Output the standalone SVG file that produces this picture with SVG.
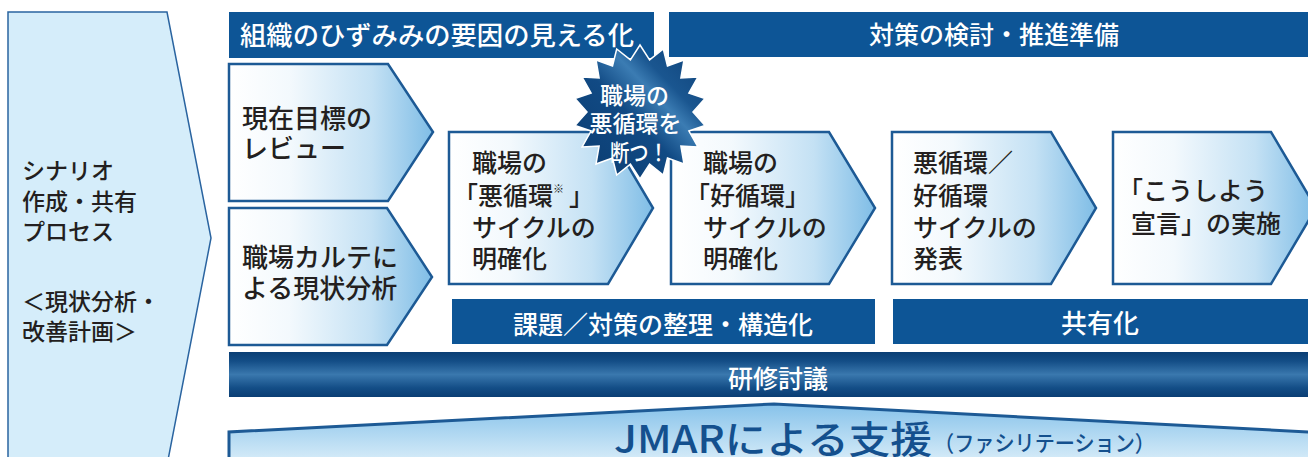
<svg xmlns="http://www.w3.org/2000/svg" width="1308" height="457" viewBox="0 0 1308 457">
<defs>
<linearGradient id="boxGrad" x1="0" y1="0" x2="1" y2="0">
<stop offset="0" stop-color="#ffffff"/>
<stop offset="0.3" stop-color="#f3f9fd"/>
<stop offset="0.7" stop-color="#c4e1f4"/>
<stop offset="1" stop-color="#7fbde6"/>
</linearGradient>
<linearGradient id="barGrad" x1="0" y1="0" x2="0" y2="1">
<stop offset="0" stop-color="#0a3e74"/>
<stop offset="0.2" stop-color="#134d86"/>
<stop offset="0.5" stop-color="#3a78ae"/>
<stop offset="0.8" stop-color="#134d86"/>
<stop offset="1" stop-color="#0a3e74"/>
</linearGradient>
<linearGradient id="jmarGrad" x1="0" y1="0" x2="0" y2="1">
<stop offset="0" stop-color="#86c2ea"/>
<stop offset="1" stop-color="#d5ebf8"/>
</linearGradient>
<linearGradient id="starGrad" x1="0" y1="1" x2="1" y2="0">
<stop offset="0" stop-color="#0b3b6f"/>
<stop offset="0.45" stop-color="#114a84"/>
<stop offset="0.62" stop-color="#3b7cb3"/>
<stop offset="0.72" stop-color="#1a5690"/>
<stop offset="1" stop-color="#0c3f76"/>
</linearGradient>
<style>
.t{font-family:"Noto Sans CJK JP","Noto Sans CJK SC",sans-serif;font-weight:500;}
.dark{fill:#231f20;font-size:25px;}
.big{font-size:26px;}
.w{fill:#ffffff;}
.hdr{fill:#0d5596;}
.box{fill:url(#boxGrad);stroke:#1d5a95;stroke-width:2.5;stroke-linejoin:miter;}
</style>
</defs>

<g id="scenario">
<polygon points="8,12 167,12 211,238 168,460 8,460" fill="#d5edfa" stroke="#2a64a0" stroke-width="1.5"/>
<text class="t" style="fill:#231f20;font-size:23px">
<tspan x="22" y="179">シナリオ</tspan>
<tspan x="22" y="210">作成・共有</tspan>
<tspan x="22" y="240">プロセス</tspan>
<tspan x="22" y="310">＜現状分析・</tspan>
<tspan x="22" y="340">改善計画＞</tspan>
</text>
</g>

<g id="header-visualize">
<rect class="hdr" x="229" y="12" width="425" height="46"/>
<text class="t w" x="240" y="45" font-size="26" textLength="394" lengthAdjust="spacingAndGlyphs">組織のひずみみの要因の見える化</text>
</g>

<g id="header-measures">
<rect class="hdr" x="669" y="12" width="639" height="45"/>
<text class="t w" x="994" y="44" font-size="25" text-anchor="middle">対策の検討・推進準備</text>
</g>

<g id="box-review">
<polygon class="box" points="229,64 388,64 433,132 388,201 229,201"/>
<text class="t dark big"><tspan x="242" y="128">現在目標の</tspan><tspan x="242" y="158">レビュー</tspan></text>
</g>

<g id="box-karte">
<polygon class="box" points="229,208 387,208 432,277 387,345 229,345"/>
<text class="t dark big"><tspan x="242" y="267">職場カルテに</tspan><tspan x="242" y="298">よる現状分析</tspan></text>
</g>

<g id="box-vicious">
<polygon class="box" points="449,132 608,132 653,208 608,284 449,284"/>
<text class="t dark">
<tspan x="472" y="172">職場の</tspan>
<tspan x="453" y="205">「悪循環</tspan><tspan font-size="11" dy="-12">※</tspan><tspan x="569" dy="12">」</tspan>
<tspan x="472" y="237">サイクルの</tspan>
<tspan x="472" y="268">明確化</tspan>
</text>
</g>

<g id="box-virtuous">
<polygon class="box" points="671,132 829,132 875,208 829,284 671,284"/>
<text class="t dark">
<tspan x="703" y="172">職場の</tspan>
<tspan x="685" y="205">「好循環」</tspan>
<tspan x="703" y="237">サイクルの</tspan>
<tspan x="703" y="268">明確化</tspan>
</text>
</g>

<g id="box-present">
<polygon class="box" points="892,132 1051,132 1096,208 1051,284 892,284"/>
<text class="t dark">
<tspan x="913" y="172">悪循環／</tspan>
<tspan x="913" y="205">好循環</tspan>
<tspan x="913" y="237">サイクルの</tspan>
<tspan x="913" y="268">発表</tspan>
</text>
</g>

<g id="box-declare">
<polygon class="box" points="1113,132 1271,132 1316,208 1271,284 1113,284"/>
<text class="t dark">
<tspan x="1118" y="200">「こうしよう</tspan>
<tspan x="1131" y="233">宣言」の実施</tspan>
</text>
</g>

<g id="bar-organize">
<rect class="hdr" x="452" y="299" width="423" height="45"/>
<text class="t w" x="663" y="334" font-size="25" text-anchor="middle">課題／対策の整理・構造化</text>
</g>

<g id="bar-share">
<rect class="hdr" x="893" y="299" width="415" height="45"/>
<text class="t w" x="1100" y="333" font-size="26" text-anchor="middle">共有化</text>
</g>

<g id="bar-training">
<rect x="229" y="352" width="1079" height="45" fill="url(#barGrad)"/>
<text class="t w" x="778" y="388" font-size="25" text-anchor="middle">研修討議</text>
</g>

<g id="jmar-support">
<polygon points="229,460 229,432 774,404 1310,432 1310,460" fill="url(#jmarGrad)" stroke="#1d5a95" stroke-width="3"/>
<text class="t" x="614" y="453" font-size="38" fill="#14508e" textLength="318" lengthAdjust="spacingAndGlyphs">JMARによる支援</text>
<text class="t" x="934" y="451" font-size="22" fill="#14508e" textLength="221" lengthAdjust="spacingAndGlyphs">（ファシリテーション）</text>
</g>

<g id="starburst">
<polygon points="640,45 649.6,59.8 663.3,49 667.5,65.9 684,60 680.9,77.9 697.9,77 688.9,93 705,98.5 693,112 705,125.5 688.9,131 697.9,147 680.9,146.1 684,164 667.5,158.1 663.3,175 649.6,164.2 640,179 630.4,164.2 616.7,175 612.5,158.1 596,164 599.1,146.1 582.1,147 591.1,131 575,125.5 587,112 575,98.5 591.1,93 582.1,77 599.1,77.9 596,60 612.5,65.9 616.7,49 630.4,59.8" fill="url(#starGrad)" stroke="#ffffff" stroke-width="1.5"/>
<text class="t w" font-size="23" text-anchor="middle">
<tspan x="637" y="104">職場の</tspan>
<tspan x="638" y="132">悪循環を</tspan>
<tspan x="639" y="161" textLength="58" lengthAdjust="spacingAndGlyphs">断つ！</tspan>
</text>
</g>

<g id="connectors"/>
</svg>
